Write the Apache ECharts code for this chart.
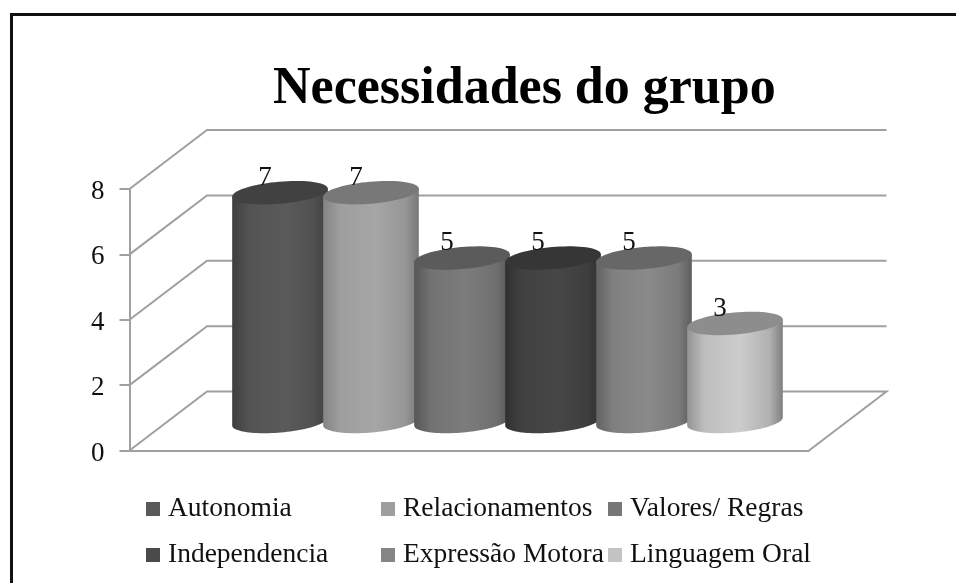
<!DOCTYPE html>
<html>
<head>
<meta charset="utf-8">
<style>html,body{margin:0;padding:0;background:#fff}#c{width:956px;height:583px}</style>
<script src="https://cdn.jsdelivr.net/npm/echarts@6/dist/echarts.min.js"></script>
</head>
<body>
<div id="c"></div>
<script>
const categories = ['Autonomia','Relacionamentos','Valores/ Regras','Independencia','Expressão Motora','Linguagem Oral'];
const values = [7,7,5,5,5,3];
const ticks = [0,2,4,6,8];
const titleText = 'Necessidades do grupo';

const bodyLeft  = ['#3e3e3e','#848484','#565656','#303030','#626262','#939393'];
const bodyMid   = ['#5a5a5a','#a6a6a6','#7c7c7c','#464646','#8a8a8a','#cccccc'];
const bodyRight = ['#3e3e3e','#787878','#565656','#303030','#5e5e5e','#808080'];
const topFill   = ['#414141','#787878','#5b5b5b','#363636','#676767','#8d8d8d'];
const swatches  = ['#5a5a5a','#9e9e9e','#777777','#4a4a4a','#858585','#c4c4c4'];

const FONT = 'Liberation Serif';
const GRAY = '#a0a0a0';
const DEPTH_X = 77.5, DEPTH_Y = -59;
const RX = 48, RY = 11, TILT = -5 * Math.PI / 180;

function ell(cx, cy, t) {
  const c = Math.cos(t) * RX, s = Math.sin(t) * RY;
  return [cx + c * Math.cos(TILT) - s * Math.sin(TILT), cy + c * Math.sin(TILT) + s * Math.cos(TILT)];
}

function cylinder(colorIdx) {
  return function (params, api) {
    const x = api.value(0), v = api.value(1);
    const topC = api.coord([x, v]), baseC = api.coord([x, 0]);
    const body = [ell(topC[0], topC[1], Math.PI)];
    for (let k = 0; k <= 48; k++) body.push(ell(baseC[0], baseC[1], Math.PI - Math.PI * k / 48));
    body.push(ell(topC[0], topC[1], 0));
    const cap = [];
    for (let k = 0; k < 72; k++) cap.push(ell(topC[0], topC[1], 2 * Math.PI * k / 72));
    const l = bodyLeft[colorIdx], m = bodyMid[colorIdx], r = bodyRight[colorIdx];
    return {
      type: 'group',
      children: [
        { type: 'polygon', shape: { points: body }, style: {
            fill: new echarts.graphic.LinearGradient(0, 0, 1, 0, [
              { offset: 0, color: l },
              { offset: 0.18, color: echarts.color.lerp(0.75, [l, m]) },
              { offset: 0.55, color: m },
              { offset: 0.86, color: echarts.color.lerp(0.65, [r, m]) },
              { offset: 1, color: r }
            ]) } },
        { type: 'polygon', shape: { points: cap }, style: { fill: topFill[colorIdx] } },
        { type: 'text', style: { text: String(v), x: topC[0] - 15, y: topC[1] - 15,
            align: 'center', verticalAlign: 'middle', font: '27px "' + FONT + '"', fill: '#111' } }
      ]
    };
  };
}

const series = [{
  type: 'custom', name: 'walls', silent: true, xAxisIndex: 0, yAxisIndex: 0, z: 1,
  data: ticks.map(t => [0, t]),
  renderItem: function (params, api) {
    const t = api.value(1);
    const a = api.coord([0, t]), b = api.coord([1, t]);
    const pts = [a, [a[0] + DEPTH_X, a[1] + DEPTH_Y], [b[0] + DEPTH_X, b[1] + DEPTH_Y]];
    if (t === 0) pts.push(b);
    return { type: 'polyline', shape: { points: pts }, style: { stroke: GRAY, lineWidth: 2, fill: null } };
  }
}];
categories.forEach((name, i) => {
  series.push({
    type: 'custom', name: name, xAxisIndex: 1, yAxisIndex: 1, z: 2 + i,
    itemStyle: { color: swatches[i] },
    data: [[i, values[i]]],
    renderItem: cylinder(i)
  });
});

function legendCol(names, left) {
  return { data: names.map(n => ({ name: n, icon: 'rect' })), orient: 'vertical', left: left, top: 494, padding: 0,
    itemWidth: 14, itemHeight: 14, itemGap: 16, selectedMode: false,
    textStyle: { fontFamily: FONT, fontSize: 27.5, color: '#111', lineHeight: 30, padding: [0, 0, 0, 3] } };
}

const chart = echarts.init(document.getElementById('c'), null, { renderer: 'canvas' });
chart.setOption({
  animation: false,
  backgroundColor: '#fff',
  title: { text: titleText, left: 268, top: 59,
    textStyle: { fontFamily: FONT, fontSize: 52, fontWeight: 'bold', color: '#000' } },
  grid: [
    { left: 129.5, top: 189, width: 679.5, height: 261.5 },
    { left: 234.5, top: 160, width: 546, height: 261.5 }
  ],
  xAxis: [
    { type: 'value', gridIndex: 0, min: 0, max: 1, axisLine: { show: true, onZero: false, lineStyle: { color: GRAY, width: 2 } },
      axisTick: { show: false }, axisLabel: { show: false }, splitLine: { show: false } },
    { type: 'category', gridIndex: 1, data: categories, show: false }
  ],
  yAxis: [
    { type: 'value', gridIndex: 0, min: 0, max: 8, interval: 2,
      axisLine: { show: true, lineStyle: { color: GRAY, width: 2 } },
      axisTick: { show: true, length: 10, lineStyle: { color: GRAY, width: 2 } },
      axisLabel: { margin: 25, formatter: '{a|{value}}',
        rich: { a: { fontFamily: FONT, fontSize: 27, color: '#111', padding: [6, 0, 0, 0] } } },
      splitLine: { show: false } },
    { type: 'value', gridIndex: 1, min: 0, max: 8, interval: 2, show: false }
  ],
  legend: [
    legendCol([categories[0], categories[3]], 146),
    legendCol([categories[1], categories[4]], 381),
    legendCol([categories[2], categories[5]], 608)
  ],
  graphic: [
    { type: 'rect', silent: true, shape: { x: 10, y: 13, width: 946, height: 3 }, style: { fill: '#111' } },
    { type: 'rect', silent: true, shape: { x: 10, y: 13, width: 3, height: 570 }, style: { fill: '#111' } }
  ],
  series: series
});
</script>
</body>
</html>
